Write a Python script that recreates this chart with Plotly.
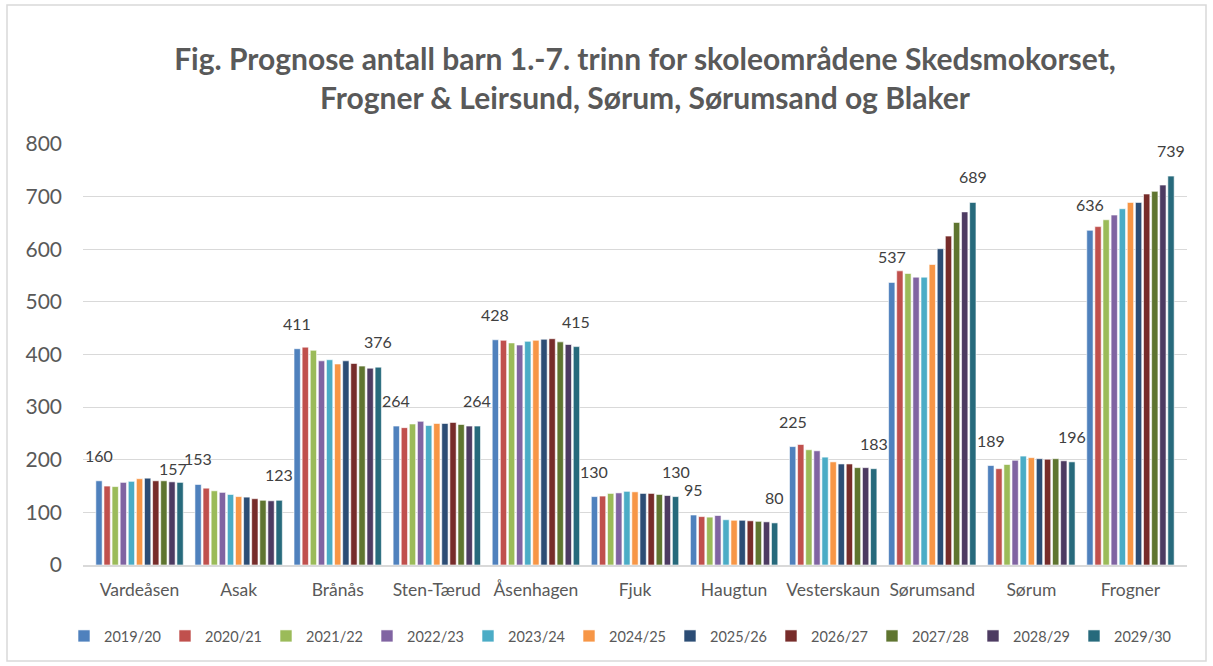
import plotly.graph_objects as go

categories = ["Vardeåsen", "Asak", "Brånås", "Sten-Tærud", "Åsenhagen", "Fjuk",
              "Haugtun", "Vesterskaun", "Sørumsand", "Sørum", "Frogner"]

years = ["2019/20", "2020/21", "2021/22", "2022/23", "2023/24", "2024/25",
         "2025/26", "2026/27", "2027/28", "2028/29", "2029/30"]

# values per school area, one entry per year
vardeasen = [160, 150, 149, 157, 159, 164, 165, 160, 160, 158, 157]
asak = [153, 146, 141, 138, 134, 130, 129, 126, 123, 122, 123]
branas = [411, 414, 408, 388, 390, 382, 388, 383, 378, 374, 376]
sten_taerud = [264, 261, 268, 273, 265, 269, 269, 271, 267, 264, 264]
asenhagen = [428, 427, 422, 418, 425, 427, 429, 430, 424, 419, 415]
fjuk = [130, 131, 136, 137, 140, 139, 136, 136, 134, 132, 130]
haugtun = [95, 92, 91, 94, 86, 85, 85, 84, 83, 82, 80]
vesterskaun = [225, 229, 219, 217, 205, 196, 192, 192, 185, 185, 183]
sorumsand = [537, 559, 554, 547, 547, 571, 601, 625, 651, 671, 689]
sorum = [189, 183, 191, 199, 207, 204, 202, 201, 202, 198, 196]
frogner = [636, 643, 656, 665, 677, 689, 689, 705, 710, 722, 739]

areas = [vardeasen, asak, branas, sten_taerud, asenhagen, fjuk,
         haugtun, vesterskaun, sorumsand, sorum, frogner]

colors = ["#4F81BD", "#C0504D", "#9BBB59", "#8064A2", "#4BACC6", "#F79646",
          "#2C4D75", "#772C2A", "#5F7530", "#4D3B62", "#276A7C"]

labelled_series = [0, len(years) - 1]
# one label in the reference was nudged by hand (series index, category index): (dx px, dy px)
label_nudge = {(len(years) - 1, 0): (-7, -12)}

FONT = "Lato, 'Open Sans', sans-serif"

W, H = 1213, 666
L, R, T, B = 83, 26, 144, 101
PW, PH = W - L - R, H - T - B
BARGAP = 0.1
NS = len(years)

fig = go.Figure()
for i, yr in enumerate(years):
    vals = [a[i] for a in areas]
    fig.add_trace(go.Bar(
        name=yr, x=categories, y=vals,
        marker=dict(color=colors[i], line=dict(color="white", width=0.6)),
        hoverinfo="x+y+name",
    ))

# data labels for first and last series, placed above each bar
for i in labelled_series:
    off = -(1 - BARGAP) / 2 + (i + 0.5) * (1 - BARGAP) / NS
    for c, a in enumerate(areas):
        dx, dy = label_nudge.get((i, c), (0, 0))
        fig.add_annotation(
            x=c + off, y=a[i], xref="x", yref="y",
            text=str(a[i]), showarrow=False,
            xanchor="center", yanchor="bottom",
            xshift=dx, yshift=14 + dy,
            font=dict(size=16, color="#404040", family=FONT),
        )

fig.update_layout(
    width=W, height=H,
    margin=dict(l=L, r=R, t=T, b=B, autoexpand=False),
    paper_bgcolor="white", plot_bgcolor="white",
    barmode="group", bargap=BARGAP, bargroupgap=0.22,
    font=dict(family=FONT, color="#595959"),
    title=dict(
        text="Fig. Prognose antall barn 1.-7. trinn for skoleområdene Skedsmokorset,<br>Frogner & Leirsund, Sørum, Sørumsand og Blaker",
        x=645 / W, xanchor="center", xref="container",
        y=1 - 70 / H, yanchor="top", yref="container",
        font=dict(size=30, color="#595959", family=FONT, weight="bold"),
    ),
    yaxis=dict(
        range=[0, 800], dtick=100, showgrid=True, gridcolor="#D9D9D9", gridwidth=1,
        zeroline=False, showline=False,
        tickfont=dict(size=21, color="#595959"),
        ticklabelstandoff=20,
    ),
    xaxis=dict(
        showline=True, linecolor="#D9D9D9", linewidth=1.5,
        tickfont=dict(size=17.5, color="#595959"),
        ticks="", ticklabelstandoff=8,
    ),
    legend=dict(
        orientation="h", x=(64 - L) / PW, xanchor="left",
        y=(565 - 620) / PH, yanchor="top",
        font=dict(size=14.5, color="#595959"),
        traceorder="normal", itemwidth=30,
        entrywidth=56, entrywidthmode="pixels",
    ),
    showlegend=True,
)

fig.add_shape(type="rect", xref="paper", yref="paper",
              x0=(7 - L) / PW, x1=(1206 - L) / PW,
              y0=(565 - 661) / PH, y1=(565 - 5) / PH,
              line=dict(color="#D9D9D9", width=1.5), fillcolor="rgba(0,0,0,0)", layer="below")

fig.write_html("out.html", config={"displayModeBar": False},
               post_script="document.body.style.margin='0';document.body.style.overflow='hidden';")
